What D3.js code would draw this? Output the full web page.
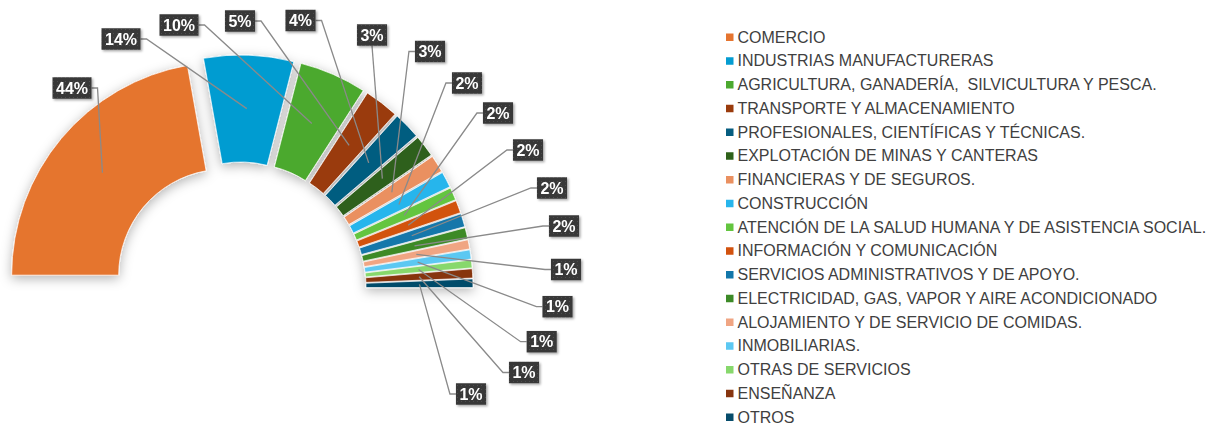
<!DOCTYPE html>
<html>
<head>
<meta charset="utf-8">
<script src="https://cdn.jsdelivr.net/npm/d3@7"></script>
<style>
  html, body { margin: 0; padding: 0; background: #ffffff; }
  svg { display: block; }
</style>
</head>
<body>
<svg id="chart" width="1221" height="425"></svg>
<script>
// Sectors (share of establishments, %)
const sectors = [
  "COMERCIO",
  "INDUSTRIAS MANUFACTURERAS",
  "AGRICULTURA, GANADERÍA,  SILVICULTURA Y PESCA.",
  "TRANSPORTE Y ALMACENAMIENTO",
  "PROFESIONALES, CIENTÍFICAS Y TÉCNICAS.",
  "EXPLOTACIÓN DE MINAS Y CANTERAS",
  "FINANCIERAS Y DE SEGUROS.",
  "CONSTRUCCIÓN",
  "ATENCIÓN DE LA SALUD HUMANA Y DE ASISTENCIA SOCIAL.",
  "INFORMACIÓN Y COMUNICACIÓN",
  "SERVICIOS ADMINISTRATIVOS Y DE APOYO.",
  "ELECTRICIDAD, GAS, VAPOR Y AIRE ACONDICIONADO",
  "ALOJAMIENTO Y DE SERVICIO DE COMIDAS.",
  "INMOBILIARIAS.",
  "OTRAS DE SERVICIOS",
  "ENSEÑANZA",
  "OTROS"
];
const shares = [44.4, 13.6, 10.2, 5.2, 4.1, 3.3, 2.6, 2.4, 1.9, 1.9, 2.0, 1.7, 1.4, 1.4, 1.2, 1.4, 1.3];
const colors = [
  "#e5742f", "#049cd1", "#4ca92f", "#9a3b0c", "#065d80", "#2e611a",
  "#ea9060", "#28b5ec", "#63c53f", "#d2520e", "#1277aa", "#3c8a27",
  "#f0a583", "#5cc8f2", "#87d86c", "#87350f", "#064c6b"
];
// Data-label box centres, relative to the pie centre
const labelSpots = [
  [-168, -200], [-119, -249], [-61, -263], [0, -267], [60.5, -267.5],
  [132, -253], [190, -236.5], [227, -205], [258, -175], [288, -138],
  [312, -100], [324, -62], [326, -18.5], [317.5, 18.7], [301.7, 53.7],
  [284, 84.5], [231, 106]
];

const svg = d3.select("#chart");
const defs = svg.append("defs");

// soft shadow under the half ring
const sh = defs.append("filter").attr("id", "ringShadow")
  .attr("x", "-20%").attr("y", "-20%").attr("width", "140%").attr("height", "140%");
sh.append("feDropShadow").attr("dx", 0).attr("dy", 3).attr("stdDeviation", 6)
  .attr("flood-color", "#000").attr("flood-opacity", 0.3);

// shadow for label boxes
const lsh = defs.append("filter").attr("id", "boxShadow")
  .attr("x", "-30%").attr("y", "-30%").attr("width", "160%").attr("height", "160%");
lsh.append("feDropShadow").attr("dx", 1.5).attr("dy", 1.5).attr("stdDeviation", 1.2)
  .attr("flood-color", "#000").attr("flood-opacity", 0.35);

// subtle speckled fill for label boxes
const pat = defs.append("pattern").attr("id", "speckle")
  .attr("patternUnits", "userSpaceOnUse").attr("width", 4).attr("height", 4);
pat.append("rect").attr("width", 4).attr("height", 4).attr("fill", "#393939");
pat.append("rect").attr("x", 1).attr("y", 1).attr("width", 1).attr("height", 1).attr("fill", "#4d4d4d");

const cx = 240, cy = 288;
const rIn = 106, rOut = 213, explode = 20;

const pie = d3.pie().sort(null).value(d => d)
  .startAngle(-Math.PI / 2).endAngle(Math.PI / 2);
const arcs = pie(shares);
const arc = d3.arc().innerRadius(rIn).outerRadius(rOut);

const mid = d => (d.startAngle + d.endAngle) / 2;
const shift = d => [explode * Math.sin(mid(d)), -explode * Math.cos(mid(d))];

const ring = svg.append("g")
  .attr("transform", `translate(${cx},${cy})`)
  .attr("filter", "url(#ringShadow)");

ring.selectAll("path.slice")
  .data(arcs)
  .join("path")
  .attr("class", "slice")
  .attr("transform", d => `translate(${shift(d)[0]},${shift(d)[1]})`)
  .attr("d", arc)
  .attr("fill", (d, i) => colors[i])
  .attr("stroke", "#ffffff")
  .attr("stroke-width", 0.7);

// data labels with leader lines
const lbl = svg.append("g").attr("transform", `translate(${cx},${cy})`);
const boxH = 21.5;

arcs.forEach((d, i) => {
  const s = shift(d);
  const c = arc.centroid(d);
  const px = c[0] + s[0], py = c[1] + s[1];
  const [bx, by] = labelSpots[i];

  const g = lbl.append("g");
  const txt = g.append("text")
    .attr("x", bx).attr("y", by)
    .attr("text-anchor", "middle")
    .attr("dominant-baseline", "central")
    .attr("font-family", "'Liberation Sans', Arial, sans-serif")
    .attr("font-weight", "bold")
    .attr("font-size", 16)
    .attr("fill", "#ffffff")
    .text(Math.round(d.data) + "%");
  const w = txt.node().getComputedTextLength() + 7;
  const left = bx - w / 2, right = bx + w / 2;

  let pts;
  if (px > right) pts = [[right, by], [right + 6, by], [px, py]];
  else if (px < left) pts = [[left, by], [left - 6, by], [px, py]];
  else pts = [[bx, by + boxH / 2], [px, py]];

  lbl.insert("path", ":first-child")
    .attr("d", d3.line()(pts))
    .attr("fill", "none")
    .attr("stroke", "#8a8a8a")
    .attr("stroke-width", 1.3);

  g.insert("rect", "text")
    .attr("x", left).attr("y", by - boxH / 2)
    .attr("width", w).attr("height", boxH)
    .attr("fill", "url(#speckle)")
    .attr("filter", "url(#boxShadow)");
});

// legend
const legend = svg.append("g").attr("transform", "translate(726,37)");
const rowH = 23.75;
const rows = legend.selectAll("g.row")
  .data(sectors)
  .join("g")
  .attr("class", "row")
  .attr("transform", (d, i) => `translate(0,${i * rowH})`);
rows.append("rect")
  .attr("x", 0).attr("y", -3.5)
  .attr("width", 7.5).attr("height", 7.5)
  .attr("fill", (d, i) => colors[i]);
rows.append("text")
  .attr("x", 11.5).attr("y", 0)
  .attr("dominant-baseline", "central")
  .attr("font-family", "'Liberation Sans', Arial, sans-serif")
  .attr("font-size", 16)
  .attr("fill", "#404040")
  .style("white-space", "pre")
  .text(d => d);
</script>
</body>
</html>
